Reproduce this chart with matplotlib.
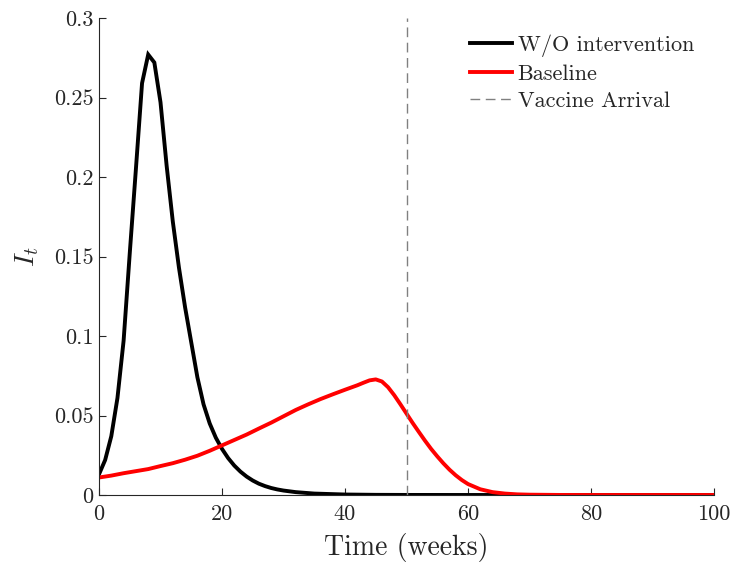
import matplotlib
matplotlib.use("Agg")
import matplotlib.pyplot as plt

# ---- data ----
t_black = [0, 1, 2, 3, 4, 5, 6, 7, 8, 9, 10, 11, 12, 13, 14, 15, 16, 17, 18, 19,
           20, 21, 22, 23, 24, 25, 26, 27, 28, 29, 30, 32, 35, 40, 45, 50, 60, 70,
           80, 90, 100]
i_black = [0.013, 0.022, 0.037, 0.061, 0.097, 0.152, 0.205, 0.259, 0.277, 0.272,
           0.247, 0.207, 0.172, 0.143, 0.118, 0.096, 0.074, 0.057, 0.045, 0.036,
           0.029, 0.0232, 0.0185, 0.0147, 0.0116, 0.0091, 0.0071, 0.0056, 0.0044,
           0.0035, 0.0028, 0.0018, 0.0009, 0.0003, 0.0001, 0.00004, 0.00001, 0.0,
           0.0, 0.0, 0.0]

t_red = [0, 2, 4, 6, 8, 10, 12, 14, 16, 18, 20, 22, 24, 26, 28, 30, 32, 34, 36, 38,
         40, 42, 43, 44, 45, 46, 47, 48, 49, 50, 51, 52, 53, 54, 55, 56, 57, 58, 59,
         60, 62, 64, 66, 68, 70, 75, 80, 90, 100]
i_red = [0.011, 0.0122, 0.0137, 0.015, 0.0163, 0.0182, 0.02, 0.0222, 0.0247, 0.0278,
         0.0312, 0.0346, 0.038, 0.0418, 0.0455, 0.0495, 0.0535, 0.057, 0.0603, 0.0633,
         0.0662, 0.069, 0.0706, 0.0721, 0.0727, 0.0714, 0.0678, 0.0628, 0.0571, 0.0512,
         0.0453, 0.0397, 0.0342, 0.029, 0.0243, 0.0199, 0.0159, 0.0124, 0.0094,
         0.0069, 0.0036, 0.0018, 0.0009, 0.0004, 0.0002, 0.00003, 0.0, 0.0, 0.0]

vaccine_week = 50
labels = ["W/O intervention", "Baseline", "Vaccine Arrival"]
xticks = [0, 20, 40, 60, 80, 100]
yticks = [0, 0.05, 0.1, 0.15, 0.2, 0.25, 0.3]
ytick_labels = ["0", "0.05", "0.1", "0.15", "0.2", "0.25", "0.3"]

# ---- style ----
plt.rcParams["font.family"] = "serif"
plt.rcParams["font.serif"] = ["cmr10"]
plt.rcParams["mathtext.fontset"] = "cm"
plt.rcParams["axes.formatter.use_mathtext"] = True

txt = "#262626"
fig = plt.figure(figsize=(7.34, 5.69), dpi=100)
ax = fig.add_axes([99 / 734, 74 / 569, 615 / 734, 477 / 569])

ax.plot(t_black, i_black, color="black", lw=2.8, label=labels[0],
        solid_joinstyle="miter")
ax.plot(t_red, i_red, color="red", lw=2.8, label=labels[1])
ax.plot([vaccine_week, vaccine_week], [0, 0.3], color="#808080", lw=1.0,
        linestyle=(0, (7, 4)), label=labels[2])

ax.set_xlim(0, 100)
ax.set_ylim(0, 0.3)
ax.set_xticks(xticks)
ax.set_xticklabels([str(v) for v in xticks])
ax.set_yticks(yticks)
ax.set_yticklabels(ytick_labels)

for s in ["top", "right"]:
    ax.spines[s].set_visible(False)
for s in ["left", "bottom"]:
    ax.spines[s].set_color(txt)
    ax.spines[s].set_linewidth(0.8)

ax.tick_params(direction="in", length=5, width=0.8, colors=txt, labelsize=16,
               labelcolor=txt)
ax.tick_params(axis="x", pad=7)
ax.tick_params(axis="y", pad=4)

ax.set_xlabel("Time (weeks)", fontsize=20, color=txt, labelpad=6)
ax.set_ylabel(r"$I_t$", fontsize=20, color=txt, labelpad=9)

leg = ax.legend(loc="upper left", bbox_to_anchor=(0.603, 0.965), frameon=False,
                fontsize=16, handlelength=1.9, handletextpad=0.25,
                labelspacing=0.33, borderpad=0, borderaxespad=0)
for t in leg.get_texts():
    t.set_color(txt)

fig.savefig("out.png", dpi=100)
